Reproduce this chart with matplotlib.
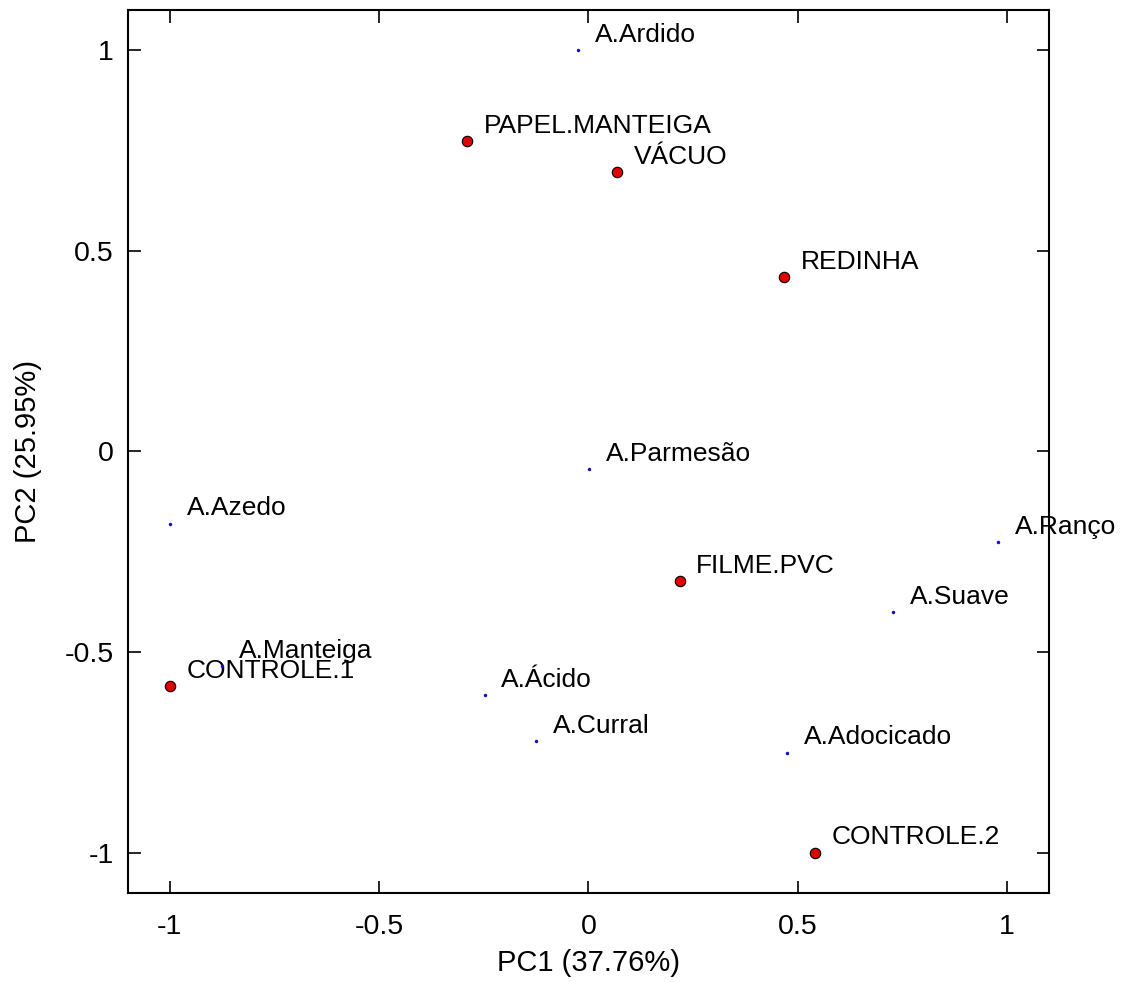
import numpy as np
import matplotlib
matplotlib.use("Agg")
import matplotlib.pyplot as plt

plt.rcParams['font.family'] = ['Liberation Sans', 'DejaVu Sans']
plt.rcParams['axes.unicode_minus'] = False

# samples (red points)
sample_names = ['PAPEL.MANTEIGA', 'VÁCUO', 'REDINHA', 'FILME.PVC', 'CONTROLE.1', 'CONTROLE.2']
sample_pc1 = [-0.290, 0.068, 0.467, 0.218, -0.998, 0.542]
sample_pc2 = [0.773, 0.696, 0.435, -0.323, -0.585, -1.000]

# attributes (blue points)
attr_names = ['A.Ardido', 'A.Parmesão', 'A.Azedo', 'A.Ranço', 'A.Suave',
              'A.Manteiga', 'A.Ácido', 'A.Curral', 'A.Adocicado']
attr_pc1 = [-0.024, 0.002, -0.998, 0.979, 0.728, -0.874, -0.248, -0.125, 0.474]
attr_pc2 = [1.000, -0.044, -0.180, -0.226, -0.400, -0.535, -0.607, -0.722, -0.751]

fig = plt.figure(figsize=(11.28, 9.82), dpi=100)
ax = fig.add_axes([0.1132, 0.0909, 0.8168, 0.8989])

ax.plot(attr_pc1, attr_pc2, linestyle='none', marker='o', markersize=2.5,
        color='#1010c0', markeredgewidth=0, zorder=3)
ax.plot(sample_pc1, sample_pc2, linestyle='none', marker='o', markersize=7.5,
        markerfacecolor='#e00000', markeredgecolor='black', markeredgewidth=0.8, zorder=3)

# labels: attributes first so sample labels draw over them
for name, x, y in zip(attr_names, attr_pc1, attr_pc2):
    ax.annotate(name, (x, y), xytext=(12, 11), textcoords='offset points',
                ha='left', va='center', fontsize=19, annotation_clip=False, zorder=2)
for name, x, y in zip(sample_names, sample_pc1, sample_pc2):
    ax.annotate(name, (x, y), xytext=(12, 11), textcoords='offset points',
                ha='left', va='center', fontsize=19, annotation_clip=False, zorder=2)

ax.set_xlim(-1.1, 1.1)
ax.set_ylim(-1.1, 1.1)
ax.set_xticks([-1, -0.5, 0, 0.5, 1])
ax.set_yticks([-1, -0.5, 0, 0.5, 1])
ax.set_xticklabels(['-1', '-0.5', '0', '0.5', '1'])
ax.set_yticklabels(['-1', '-0.5', '0', '0.5', '1'])
ax.tick_params(direction='in', length=9, width=1.2, top=True, right=True,
               labelsize=20.5)
ax.tick_params(axis='x', pad=15)
ax.tick_params(axis='y', pad=10)
for sp in ax.spines.values():
    sp.set_linewidth(1.5)

ax.set_xlabel('PC1 (37.76%)', fontsize=21, labelpad=7)
ax.set_ylabel('PC2 (25.95%)', fontsize=21, labelpad=16)

fig.savefig('out.png', dpi=100)
